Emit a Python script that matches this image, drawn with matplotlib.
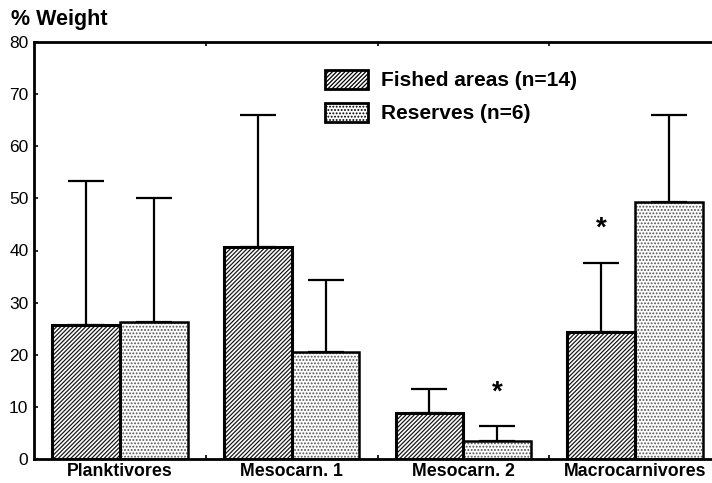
import matplotlib
matplotlib.use("Agg")
import matplotlib.pyplot as plt
import numpy as np
from matplotlib.patches import Patch

plt.rcParams['font.family'] = ['Liberation Sans', 'DejaVu Sans']

categories = ["Planktivores", "Mesocarn. 1", "Mesocarn. 2", "Macrocarnivores"]
fished = [25.8, 40.6, 8.8, 24.3]
fished_err_top = [53.3, 66.0, 13.4, 37.6]
reserves = [26.3, 20.5, 3.4, 49.3]
reserves_err_top = [50.0, 34.4, 6.3, 66.0]
series_labels = ["Fished areas (n=14)", "Reserves (n=6)"]
yticks = [0, 10, 20, 30, 40, 50, 60, 70, 80]
asterisks = [(3, 0, 44.2), (2, 1, 12.8)]  # (category, series, y)

fig = plt.figure(figsize=(7.12, 4.83), dpi=100)
ax = fig.add_axes([34/712, 24/483, 687/712, 417/483])

x = np.arange(len(categories))
w = 0.395
plt.rcParams['hatch.linewidth'] = 0.9

pos_f = x - w/2
pos_r = x + w/2

hatch_f = '////////'
hatch_r = '.....'

# hatched fill layer
ax.bar(pos_f, fished, w, color='white', edgecolor='#1a1a1a', hatch=hatch_f, linewidth=0, zorder=2)
ax.bar(pos_r, reserves, w, color='white', edgecolor='#555555', hatch=hatch_r, linewidth=0, zorder=2)
# outlines
ax.bar(pos_f, fished, w, fill=False, edgecolor='black', linewidth=2.2, zorder=3)
ax.bar(pos_r, reserves, w, fill=False, edgecolor='black', linewidth=1.8, zorder=3)

# upper-only error bars
f_err = np.array(fished_err_top) - np.array(fished)
r_err = np.array(reserves_err_top) - np.array(reserves)
ax.errorbar(pos_f, fished, yerr=[np.zeros_like(f_err), f_err], fmt='none', ecolor='black',
            elinewidth=1.6, capsize=13, capthick=1.6, zorder=1)
ax.errorbar(pos_r, reserves, yerr=[np.zeros_like(r_err), r_err], fmt='none', ecolor='black',
            elinewidth=1.6, capsize=13, capthick=1.6, zorder=1)

for ci, si, yv in asterisks:
    xp = pos_f[ci] if si == 0 else pos_r[ci]
    ax.text(xp, yv, '*', ha='center', va='center', fontsize=20, fontweight='bold')

ax.set_xlim(-0.5, 3.5)
ax.set_ylim(0, 80)
ax.set_yticks(yticks)
ax.set_yticklabels([str(v) for v in yticks], fontsize=12.5)
ax.set_xticks(x)
ax.set_xticklabels(categories, fontsize=12.8, fontweight='bold')
ax.tick_params(axis='x', length=0, pad=3)
ax.tick_params(axis='y', direction='in', length=3, width=1.2, pad=4)
ax.set_xticks([0.5, 1.5, 2.5], minor=True)
ax.tick_params(axis='x', which='minor', direction='in', length=3, width=1.2, top=True)
for s in ['left', 'bottom', 'top', 'right']:
    ax.spines[s].set_linewidth(2)

fig.text(11/712, 1 - 20/483, '% Weight', fontsize=15.5, fontweight='bold', va='center', ha='left')

handles = [Patch(facecolor='white', edgecolor='black', hatch=hatch_f, linewidth=2),
           Patch(facecolor='white', edgecolor='black', hatch=hatch_r, linewidth=2)]
leg = fig.legend(handles, series_labels, loc='upper left', bbox_to_anchor=(325/712, 1 - 70/483),
                 frameon=False, prop={'size': 15, 'weight': 'bold'}, borderpad=0, borderaxespad=0,
                 handlelength=2.05, handleheight=1.0, handletextpad=0.63, labelspacing=0.6)

fig.savefig('out.png', dpi=100)
